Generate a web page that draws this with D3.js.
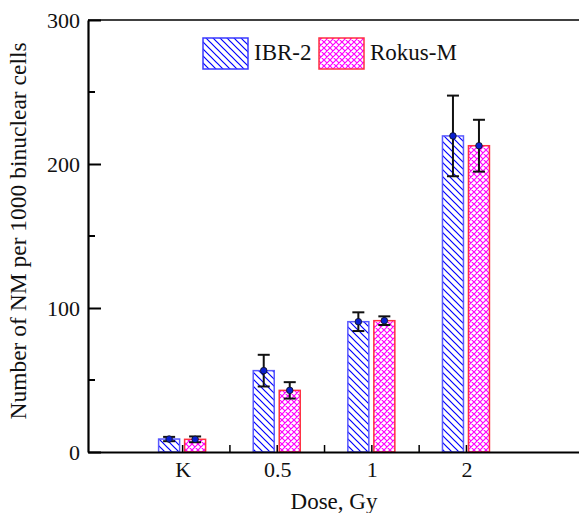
<!DOCTYPE html>
<html>
<head>
<meta charset="utf-8">
<script src="https://cdn.jsdelivr.net/npm/d3@7"></script>
<style>
  body { margin: 0; background: #fff; }
  svg text { font-family: "Liberation Serif", "DejaVu Serif", serif !important; }
</style>
</head>
<body>
<svg id="chart" width="579" height="513"></svg>
<script>
const categories = ["K", "0.5", "1", "2"];
const ibrValues = [9, 56.5, 90.5, 219.5];
const ibrErrors = [1.5, 11, 6.5, 28];
const rokusValues = [8.8, 42.8, 91.2, 212.7];
const rokusErrors = [2, 5.7, 3, 18];
const yTicks = [0, 100, 200, 300];
const seriesNames = ["IBR-2", "Rokus-M"];

const svg = d3.select("#chart");
const plotLeft = 88, plotTop = 20, plotBottom = 452, plotRight = 580;

const x = d3.scaleLinear().domain([0, 5.2]).range([plotLeft, plotRight]);
const y = d3.scaleLinear().domain([0, 300]).range([plotBottom, plotTop]);

const defs = svg.append("defs");
defs.append("pattern")
  .attr("id", "hatchBlue")
  .attr("width", 7).attr("height", 7)
  .attr("patternUnits", "userSpaceOnUse")
  .append("path")
  .attr("d", "M0,0 L7,7 M-1,6 L1,8 M6,-1 L8,1")
  .attr("stroke", "#0000ff")
  .attr("stroke-width", 1.2);

const cross = defs.append("pattern")
  .attr("id", "crossPink")
  .attr("width", 6).attr("height", 6)
  .attr("patternUnits", "userSpaceOnUse");
cross.append("rect").attr("width", 6).attr("height", 6).attr("fill", "#fff");
cross.append("path")
  .attr("d", "M0,0 L6,6 M-1,5 L1,7 M5,-1 L7,1 M0,6 L6,0 M-1,1 L1,-1 M5,7 L7,5")
  .attr("stroke", "#ff00ff")
  .attr("stroke-width", 1.2);

// bars
const blueOffset = -24, pinkOffset = 2, barW = 21;
categories.forEach((c, i) => {
  const cx = x(i + 1);
  svg.append("rect")
    .attr("x", cx + blueOffset)
    .attr("y", y(ibrValues[i]))
    .attr("width", barW)
    .attr("height", y(0) - y(ibrValues[i]))
    .attr("fill", "url(#hatchBlue)")
    .attr("stroke", "#5a5aff")
    .attr("stroke-width", 1.5);
  svg.append("rect")
    .attr("x", cx + pinkOffset)
    .attr("y", y(rokusValues[i]))
    .attr("width", barW)
    .attr("height", y(0) - y(rokusValues[i]))
    .attr("fill", "url(#crossPink)")
    .attr("stroke", "#ff3040")
    .attr("stroke-width", 1.5);
});

// error bars
function drawError(cx, v, e) {
  const g = svg.append("g").attr("stroke", "#111").attr("stroke-width", 2);
  g.append("line").attr("x1", cx).attr("x2", cx).attr("y1", y(v + e)).attr("y2", y(v - e));
  g.append("line").attr("x1", cx - 6).attr("x2", cx + 6).attr("y1", y(v + e)).attr("y2", y(v + e));
  g.append("line").attr("x1", cx - 6).attr("x2", cx + 6).attr("y1", y(v - e)).attr("y2", y(v - e));
  svg.append("circle")
    .attr("cx", cx).attr("cy", y(v)).attr("r", 3.3)
    .attr("fill", "#0a1fd0")
    .attr("stroke", "#111").attr("stroke-width", 0.8);
}
categories.forEach((c, i) => {
  const cx = x(i + 1);
  drawError(cx + blueOffset + barW / 2, ibrValues[i], ibrErrors[i]);
  drawError(cx + pinkOffset + barW / 2, rokusValues[i], rokusErrors[i]);
});

// frame
svg.append("line")
  .attr("x1", plotLeft).attr("x2", plotRight).attr("y1", plotTop).attr("y2", plotTop)
  .attr("stroke", "#000").attr("stroke-width", 1.3);

// y axis
const yAxis = d3.axisLeft(y).tickValues(yTicks).tickSize(-13).tickPadding(8).tickSizeOuter(0);
const yg = svg.append("g").attr("transform", `translate(${plotLeft},0)`).call(yAxis);
yg.select(".domain").attr("stroke-width", 2.2);
yg.selectAll(".tick line").attr("stroke-width", 2);
yg.selectAll(".tick text").attr("font-size", 22).attr("fill", "#111");
[50, 150, 250].forEach(v => {
  svg.append("line")
    .attr("x1", plotLeft).attr("x2", plotLeft + 7)
    .attr("y1", y(v)).attr("y2", y(v))
    .attr("stroke", "#000").attr("stroke-width", 2);
});

// x axis
const xAxis = d3.axisBottom(x).tickValues([1, 2, 3, 4])
  .tickFormat((d, i) => categories[i]).tickSize(0).tickPadding(9).tickSizeOuter(0);
const xg = svg.append("g").attr("transform", `translate(0,${plotBottom})`).call(xAxis);
xg.select(".domain").attr("stroke-width", 2.2);
xg.selectAll(".tick text").attr("font-size", 22).attr("fill", "#111");
[1, 1.5, 2, 2.5, 3, 3.5, 4].forEach(v => {
  svg.append("line")
    .attr("x1", x(v)).attr("x2", x(v))
    .attr("y1", plotBottom).attr("y2", plotBottom - 7)
    .attr("stroke", "#000").attr("stroke-width", 1.5);
});

// axis titles
svg.append("text")
  .attr("x", 334).attr("y", 509)
  .attr("text-anchor", "middle")
  .attr("font-size", 23).attr("fill", "#111")
  .text("Dose, Gy");
svg.append("text")
  .attr("transform", "translate(26,231) rotate(-90)")
  .attr("text-anchor", "middle")
  .attr("font-size", 23.5).attr("fill", "#111")
  .text("Number of NM per 1000 binuclear cells");

// legend
const legendItems = [
  { name: seriesNames[0], x: 203, fill: "url(#hatchBlue)", stroke: "#3a3aff" },
  { name: seriesNames[1], x: 319, fill: "url(#crossPink)", stroke: "#ff3040" }
];
legendItems.forEach(d => {
  svg.append("rect")
    .attr("x", d.x).attr("y", 38)
    .attr("width", 45).attr("height", 31)
    .attr("fill", d.fill)
    .attr("stroke", d.stroke).attr("stroke-width", 1.5);
  svg.append("text")
    .attr("x", d.x + 51).attr("y", 60)
    .attr("font-size", 23).attr("fill", "#111")
    .text(d.name);
});
</script>
</body>
</html>
